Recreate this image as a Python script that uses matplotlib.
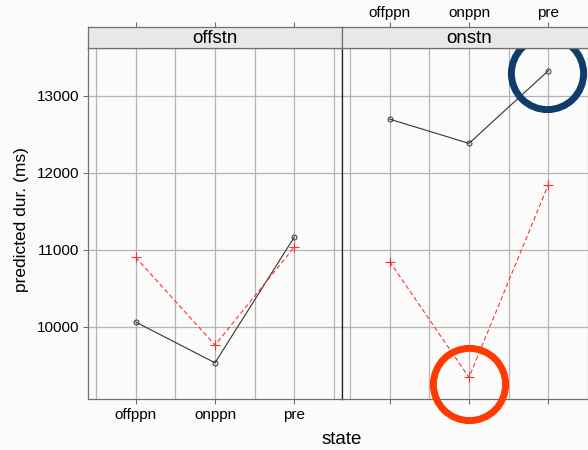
import matplotlib
matplotlib.use("Agg")
import matplotlib.pyplot as plt
import matplotlib.transforms as mtransforms

plt.rcParams['font.family'] = ['Liberation Sans', 'DejaVu Sans']

states = ["offppn", "onppn", "pre"]
panels = ["offstn", "onstn"]

offstn_black = [10060, 9530, 11165]
offstn_red = [10900, 9760, 11035]
onstn_black = [12695, 12380, 13325]
onstn_red = [10845, 9340, 11845]

series = {
    "offstn": (offstn_black, offstn_red),
    "onstn": (onstn_black, onstn_red),
}

yticks = [10000, 11000, 12000, 13000]
W, H = 588, 450
bg = "#fbfbfb"
frame = "#707070"
gridc = "#b4b4b4"

fig = plt.figure(figsize=(W / 100, H / 100), dpi=100, facecolor=bg)

xpos = [1, 2, 3]
left_px = [88, 342]
panel_w = 254
top_px, bottom_px, strip_top = 48.3, 399, 27.3

axes = []
for i, name in enumerate(panels):
    x0 = left_px[i] / W
    ax = fig.add_axes([x0, 1 - bottom_px / H, panel_w / W, (bottom_px - top_px) / H])
    ax.set_facecolor(bg)
    ax.set_xlim(0.4, 3.6)
    ax.set_ylim(9060, 13615)

    # lattice-style grid: categories and half steps
    for gx in [0.5, 1, 1.5, 2, 2.5, 3, 3.5]:
        ax.axvline(gx, color=gridc, lw=0.9, zorder=0)
    for gy in yticks:
        ax.axhline(gy, color=gridc, lw=0.9, zorder=0)

    black, red = series[name]
    ax.plot(xpos, black, color="#333333", lw=0.8, marker="o", ms=3.6,
            mfc="none", mec="#333333", mew=0.7, zorder=3)
    ax.plot(xpos, red, color="#ff3030", lw=0.8, ls=(0, (4, 2.5)),
            marker="+", ms=6.5, mew=0.8, zorder=3)

    ax.set_xticks(xpos)
    ax.set_xticklabels(states)
    ax.set_yticks(yticks)
    ax.tick_params(direction="out", length=3.5, width=0.8, color=frame,
                   labelsize=11, pad=3)
    if i == 0:
        ax.set_yticklabels([str(v) for v in yticks])
    else:
        ax.tick_params(labelbottom=False, left=False, labelleft=False)
    for s in ax.spines.values():
        s.set_color(frame)
        s.set_linewidth(0.9)
    if i == 1:
        ax.spines["left"].set_color("#202020")
    else:
        ax.spines["right"].set_color("#202020")
    axes.append(ax)

    # strip with panel name, top ticks drawn above it
    sax = fig.add_axes([x0, 1 - top_px / H, panel_w / W, (top_px - strip_top) / H],
                       sharex=ax)
    sax.set_facecolor("#e8e8e8")
    sax.set_yticks([])
    sax.xaxis.tick_top()
    sax.tick_params(direction="out", length=3.5, width=0.8, color=frame,
                    labelsize=11, pad=2, bottom=False, labelbottom=False)
    if i == 0:
        sax.tick_params(labeltop=False)
    else:
        sax.tick_params(labeltop=True)
    for s in sax.spines.values():
        s.set_color(frame)
        s.set_linewidth(0.9)
    sax.text(0.5, 0.45, name, transform=sax.transAxes, ha="center",
             va="center", fontsize=13.5)

# highlight rings around the onstn extremes
ax = axes[1]
blue_tr = mtransforms.offset_copy(ax.transData, fig=fig, x=-0.7, y=-1.9, units="points")
ax.plot(xpos[2], onstn_black[2], marker="o", ms=52, mfc="none", mec="#0f3c69",
        mew=5.0, transform=blue_tr, clip_on=False, zorder=5)
red_tr = mtransforms.offset_copy(ax.transData, fig=fig, x=0, y=-4.7, units="points")
ax.plot(xpos[1], onstn_red[1], marker="o", ms=52, mfc="none", mec="#ff3a00",
        mew=5.0, transform=red_tr, clip_on=False, zorder=5)

fig.text(22 / W, 1 - 219.5 / H, "predicted dur. (ms)", rotation=90,
         ha="center", va="center", fontsize=12.5)
fig.text(342 / W, 1 - 440 / H, "state", ha="center", va="center", fontsize=13.5)

fig.savefig("out.png", dpi=100, facecolor=bg)
